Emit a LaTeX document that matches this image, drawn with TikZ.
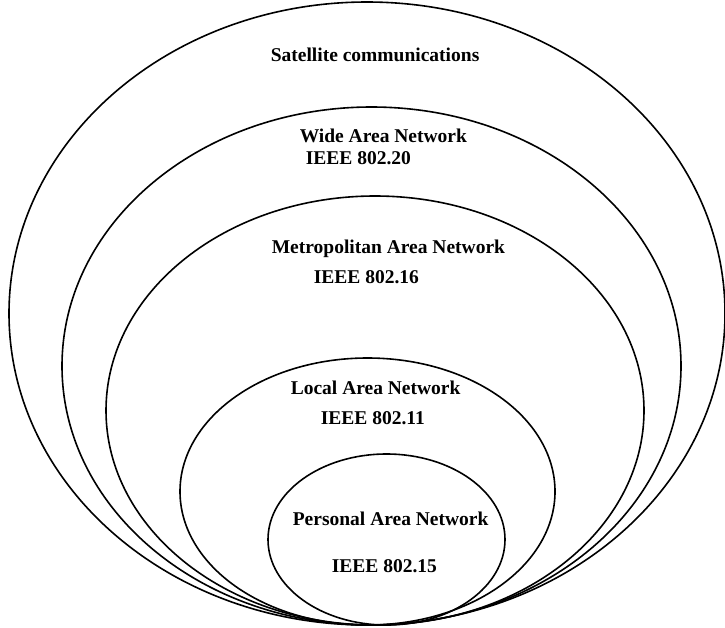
\documentclass[tikz,border=0pt]{standalone}
\usepackage{fontspec}
\setmainfont{Liberation Serif}
\begin{document}
\begin{tikzpicture}[x=1pt,y=-1pt,line width=1.6pt]
	\tikzset{lbl/.style={font=\fontsize{19.5}{22}\selectfont\bfseries, inner sep=0pt, anchor=base west}}
	\useasboundingbox (0,0) rectangle (725,627);
	% nested rings, all meeting at the bottom
	\draw (367,313.5) ellipse [x radius=358pt, y radius=311.5pt];
	\draw (371.5,366) ellipse [x radius=309.5pt, y radius=259pt];
	\draw (375,410.5) ellipse [x radius=269pt, y radius=214.5pt];
	\draw (367.5,491.5) ellipse [x radius=187.5pt, y radius=133.5pt];
	\draw (386.5,539.5) ellipse [x radius=118.5pt, y radius=85.5pt];
	% labels
	\node[lbl] (sat) at (270,61) {Satellite communications};
	\node[lbl] (wan) at (299,142) {Wide Area Network};
	\node[lbl] (wanstd) at (305,164) {IEEE 802.20};
	\node[lbl] (man) at (271,253) {Metropolitan Area Network};
	\node[lbl] (manstd) at (313,283) {IEEE 802.16};
	\node[lbl] (lan) at (290,394) {Local Area Network};
	\node[lbl] (lanstd) at (320,424) {IEEE 802.11};
	\node[lbl] (pan) at (292,525) {Personal Area Network};
	\node[lbl] (panstd) at (331,572) {IEEE 802.15};
\end{tikzpicture}
\end{document}
